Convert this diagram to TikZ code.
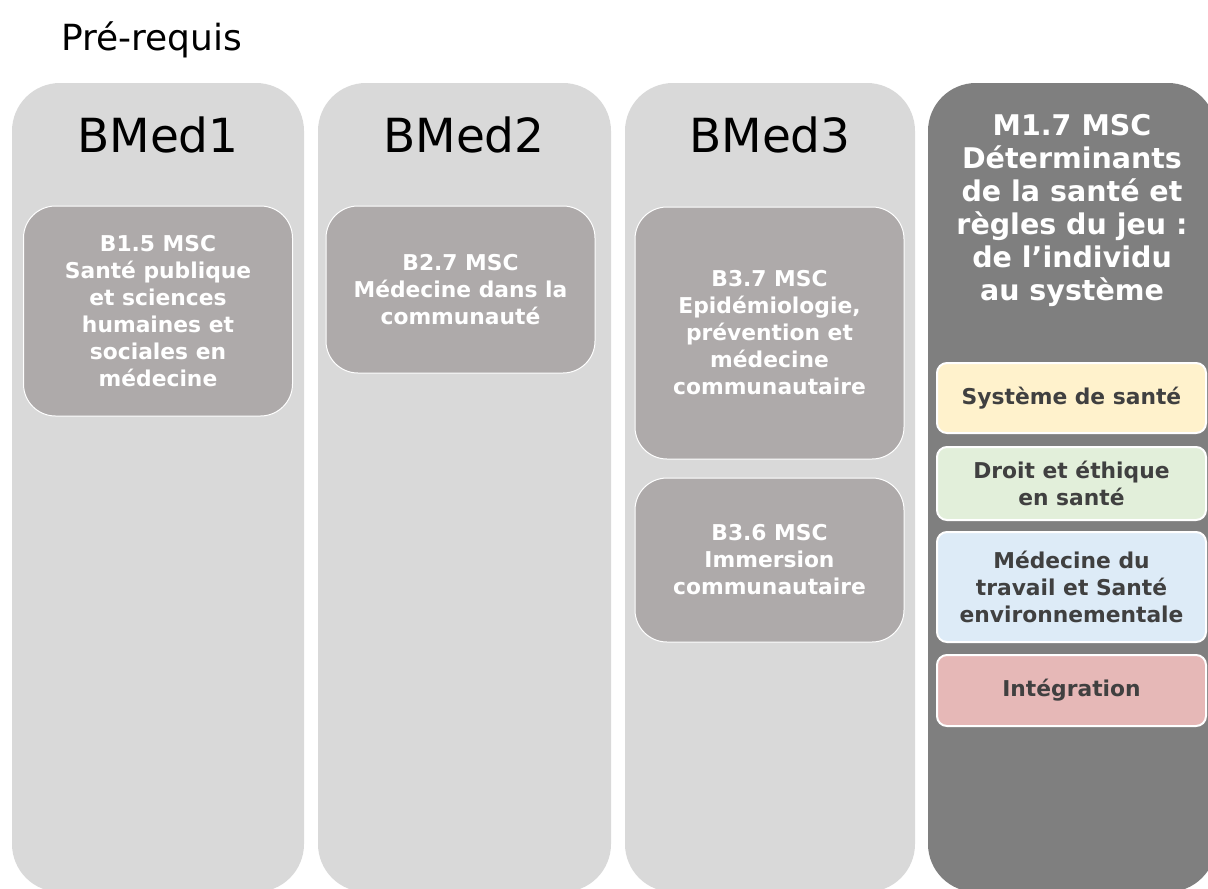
\documentclass[tikz,border=0pt]{standalone}
\usepackage{fontspec}
\setmainfont{DejaVu Sans}
\definecolor{colgris}{RGB}{217,217,217}
\definecolor{colfonce}{RGB}{127,127,127}
\definecolor{coursgris}{RGB}{174,170,170}
\definecolor{textgris}{RGB}{64,64,64}
\definecolor{themejaune}{RGB}{255,242,204}
\definecolor{themevert}{RGB}{226,239,218}
\definecolor{themebleu}{RGB}{221,235,247}
\definecolor{themerose}{RGB}{230,184,183}

\begin{document}
\begin{tikzpicture}[x=1pt,y=-1pt,
  semestre/.style={fill=colgris, rounded corners=48pt},
  entete/.style={anchor=base, font=\fontsize{47}{50}\selectfont},
  cours/.style={draw=white, line width=1pt, fill=coursgris, rounded corners=32pt, text=white,
    font=\fontsize{21.8}{27}\selectfont\bfseries, align=center, inner sep=0pt, minimum width=269pt},
  theme/.style={draw=white, line width=2pt, rounded corners=10pt, text=textgris,
    font=\fontsize{21.8}{27}\selectfont\bfseries, align=center, inner sep=0pt, minimum width=269pt}]

\clip (0,0) rectangle (1208,889);
\node[anchor=base west, font=\fontsize{36}{40}\selectfont] (prereq) at (58,50) {Pré-requis};

% colonnes
\fill[semestre] (12,83) rectangle (304,892);
\fill[semestre] (318,83) rectangle (611,892);
\fill[semestre] (625,83) rectangle (915,892);
\fill[semestre, fill=colfonce] (928,83) rectangle (1216,892);

\foreach \x/\n in {158/1,464/2,770/3} {
\node[entete] (bmed\n) at (\x,152) {BMed\n};
}

% cours BMed
\node[cours, minimum height=210pt] (b15) at (158,311) {B1.5 MSC\\Santé publique\\et sciences\\humaines et\\sociales en\\médecine};
\node[cours, minimum height=167pt] (b27) at (460.5,289.5) {B2.7 MSC\\Médecine dans la\\communauté};
\node[cours, minimum height=252pt] (b37) at (769.5,333) {B3.7 MSC\\Epidémiologie,\\prévention et\\médecine\\communautaire};
\node[cours, minimum height=164pt] (b36) at (769.5,560) {B3.6 MSC\\Immersion\\communautaire};

% M1.7
\node[text=white, align=center, font=\fontsize{28.5}{33}\selectfont\bfseries] (m17) at (1072,210)
  {M1.7 MSC\\Déterminants\\de la santé et\\règles du jeu :\\de l’individu\\au système};

\node[theme, fill=themejaune, minimum height=70pt] (sys) at (1071.5,398) {Système de santé};
\node[theme, fill=themevert, minimum height=73pt] (droit) at (1071.5,483.5) {Droit et éthique\\en santé};
\node[theme, fill=themebleu, minimum height=110pt] (medtrav) at (1071.5,587) {Médecine du\\travail et Santé\\environnementale};
\node[theme, fill=themerose, minimum height=71pt] (integ) at (1071.5,690.5) {Intégration};

\end{tikzpicture}
\end{document}
